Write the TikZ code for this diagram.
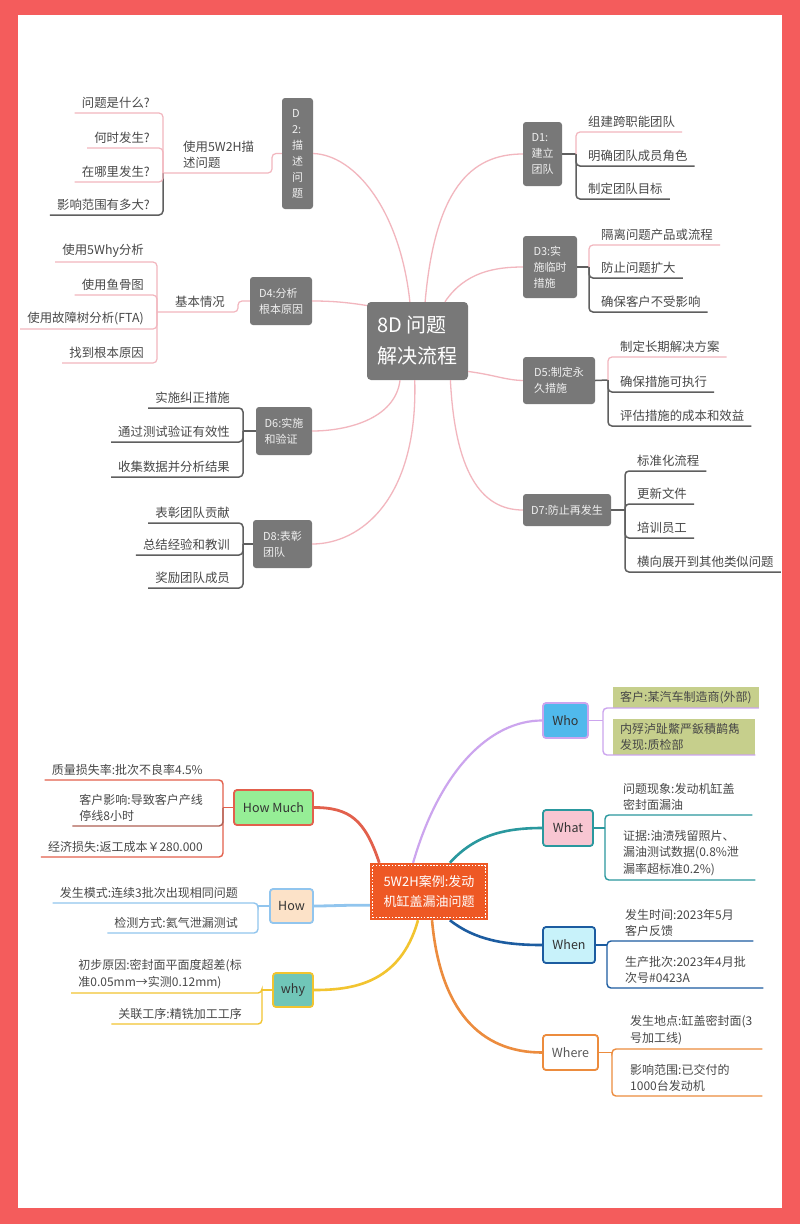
\documentclass[tikz,border=0pt]{standalone}
\usepackage{fontspec}
\setmainfont{Noto Sans CJK SC}
\definecolor{frame}{RGB}{244,92,92}
\definecolor{pk}{RGB}{242,182,190}
\definecolor{dg}{RGB}{95,95,95}
\definecolor{bx}{RGB}{120,120,120}
\definecolor{txt}{RGB}{72,72,72}
\definecolor{pu}{RGB}{204,165,238}
\definecolor{whoF}{RGB}{80,185,236}
\definecolor{grn}{RGB}{198,207,140}
\definecolor{tl}{RGB}{42,152,158}
\definecolor{whatF}{RGB}{248,198,210}
\definecolor{db}{RGB}{28,92,160}
\definecolor{whenF}{RGB}{200,242,250}
\definecolor{og}{RGB}{236,140,62}
\definecolor{cr}{RGB}{226,96,76}
\definecolor{hmF}{RGB}{150,238,150}
\definecolor{lb}{RGB}{145,197,238}
\definecolor{howF}{RGB}{252,226,200}
\definecolor{yl}{RGB}{242,196,48}
\definecolor{whyF}{RGB}{112,198,184}
\definecolor{orr}{RGB}{238,88,36}
\begin{document}
\begin{tikzpicture}[x=1pt,y=-1pt,
  dbox/.style={fill=bx, rounded corners=3pt, text=white!94!black, font=\fontsize{11}{16}\selectfont, align=left, inner sep=0pt},
  lf/.style={inner xsep=7pt, inner ysep=4pt, text=txt, font=\fontsize{12.4}{16}\selectfont},
  lfL/.style={lf, anchor=south east, align=right},
  lfR/.style={lf, anchor=south west, align=left},
  bf/.style={inner xsep=7pt, inner ysep=4pt, text=txt, font=\fontsize{12}{16.5}\selectfont},
  bL/.style={bf, anchor=south east, align=left},
  bR/.style={bf, anchor=south west, align=left},
  pline/.style={draw=pk, line width=1.2pt, rounded corners=4pt},
  gline/.style={draw=dg, line width=1.5pt, rounded corners=4pt},
  mainp/.style={draw=pk, line width=1.3pt},
  bbox/.style={rounded corners=3pt, line width=1.8pt, text=black!80, font=\fontsize{12.5}{15}\selectfont, inner sep=0pt},
  bline/.style={line width=1.4pt, rounded corners=4pt},
  wleaf/.style={fill=grn, inner xsep=7pt, inner ysep=4pt, text=txt, font=\fontsize{12}{16.5}\selectfont, anchor=south west, align=left}
]
\fill[frame] (0,0) rectangle (800,1224);
\fill[white] (18,15) rectangle (782,1208);
\useasboundingbox (0,0) rectangle (800,1224);

% ================= 8D =================
\node[fill=bx, rounded corners=4pt, minimum width=101pt, minimum height=78pt, text=white, font=\fontsize{20}{31}\selectfont, align=left, inner sep=0pt] (c8) at (417.5,341) {8D 问题\\解决流程};

\node[dbox, minimum width=31pt, minimum height=111pt] (d2) at (297.5,153.5) {D\\2:\\描\\述\\问\\题};
\node[dbox, minimum width=62pt, minimum height=48pt] (d4) at (281,301) {D4:分析\\根本原因};
\node[dbox, minimum width=56pt, minimum height=48pt] (d6) at (284,431) {D6:实施\\和验证};
\node[dbox, minimum width=59pt, minimum height=48pt] (d8) at (282.5,544) {D8:表彰\\团队};
\node[dbox, minimum width=39pt, minimum height=64pt] (d1) at (542.5,154) {D1:\\建立\\团队};
\node[dbox, minimum width=54pt, minimum height=62pt] (d3) at (550,267) {D3:实\\施临时\\措施};
\node[dbox, minimum width=72pt, minimum height=47pt] (d5) at (559,380.5) {D5:制定永\\久措施};
\node[dbox, minimum width=88pt, minimum height=32pt] (d7) at (567,510) {D7:防止再发生};

\draw[mainp] (c8.101) .. controls (400,210) and (355,155) .. (d2.east);
\draw[mainp] (c8.79) .. controls (435,190) and (470,154) .. (d1.west);
\draw[mainp] (c8.55) .. controls (465,272) and (495,267) .. (d3.west);
\draw[mainp] (c8.145) .. controls (345,302) and (330,301) .. (d4.east);
\draw[mainp] (c8.329) .. controls (495,375) and (505,380) .. (d5.west);
\draw[mainp] (c8.246) .. controls (395,420) and (345,431) .. (d6.east);
\draw[mainp] (c8.310) .. controls (455,470) and (480,510) .. (d7.west);
\draw[mainp] (c8.266) .. controls (418,500) and (360,544) .. (d8.east);

% D2 branch
\coordinate (j2) at (163,173);
\coordinate (k2) at (272,173);
\node[lfR] (lab2) at (176,173) {使用5W2H描\\述问题};
\draw[pline] (j2) -- (k2) |- (d2.west);
\node[lfL] (l21) at (157,113) {问题是什么?};
\node[lfL] (l22) at (157,148) {何时发生?};
\node[lfL] (l23) at (157,182) {在哪里发生?};
\node[lfL] (l24) at (157,215) {影响范围有多大?};
\draw[gline] (j2) |- (l24.south west);
\draw[pline] (j2) |- (l21.south west);
\draw[pline] (j2) |- (l22.south west);
\draw[pline] (j2) |- (l23.south west);

% D4 branch
\coordinate (j4) at (157,312);
\coordinate (k4) at (238,312);
\node[lfR] (lab4) at (168,312) {基本情况};
\draw[pline] (j4) -- (k4) |- (d4.west);
\node[lfL] (l41) at (151,262) {使用5Why分析};
\node[lfL] (l42) at (151,295) {使用鱼骨图};
\node[lfL] (l43) at (151,329) {使用故障树分析(FTA)};
\node[lfL] (l44) at (151,363) {找到根本原因};
\draw[pline] (j4) |- (l41.south west);
\draw[pline] (j4) |- (l42.south west);
\draw[pline] (j4) |- (l43.south west);
\draw[pline] (j4) |- (l44.south west);

% D6 branch
\coordinate (j6) at (243,431);
\draw[gline] (d6.west) -- (j6);
\node[lfL] (l61) at (237,408) {实施纠正措施};
\node[lfL] (l62) at (237,442) {通过测试验证有效性};
\node[lfL] (l63) at (237,477) {收集数据并分析结果};
\draw[gline] (j6) |- (l61.south west);
\draw[gline] (j6) |- (l62.south west);
\draw[gline] (j6) |- (l63.south west);

% D8 branch
\coordinate (j8) at (243,544);
\draw[gline] (d8.west) -- (j8);
\node[lfL] (l81) at (237,523) {表彰团队贡献};
\node[lfL] (l82) at (237,555) {总结经验和教训};
\node[lfL] (l83) at (237,588) {奖励团队成员};
\draw[gline] (j8) |- (l81.south west);
\draw[gline] (j8) |- (l82.south west);
\draw[gline] (j8) |- (l83.south west);

% D1 branch
\coordinate (j1) at (576,154);
\draw[gline] (d1.east) -- (j1);
\node[lfR] (l11) at (581,132) {组建跨职能团队};
\node[lfR] (l12) at (581,166) {明确团队成员角色};
\node[lfR] (l13) at (581,199) {制定团队目标};
\draw[gline] (j1) |- (l12.south east);
\draw[gline] (j1) |- (l13.south east);
\draw[pline] (j1) |- (l11.south east);

% D3 branch
\coordinate (j3) at (589,267);
\draw[gline] (d3.east) -- (j3);
\node[lfR] (l31) at (594,245) {隔离问题产品或流程};
\node[lfR] (l32) at (594,278) {防止问题扩大};
\node[lfR] (l33) at (594,312) {确保客户不受影响};
\draw[gline] (j3) |- (l32.south east);
\draw[gline] (j3) |- (l33.south east);
\draw[pline] (j3) |- (l31.south east);

% D5 branch
\coordinate (j5) at (608,380);
\draw[gline] (d5.east) -- (j5);
\node[lfR] (l51) at (613,357) {制定长期解决方案};
\node[lfR] (l52) at (613,392) {确保措施可执行};
\node[lfR] (l53) at (613,426) {评估措施的成本和效益};
\draw[gline] (j5) |- (l52.south east);
\draw[gline] (j5) |- (l53.south east);
\draw[pline] (j5) |- (l51.south east);

% D7 branch
\coordinate (j7) at (625,510);
\draw[gline] (d7.east) -- (j7);
\node[lfR] (l71) at (630,471) {标准化流程};
\node[lfR] (l72) at (630,504) {更新文件};
\node[lfR] (l73) at (630,538) {培训员工};
\node[lfR] (l74) at (630,572) {横向展开到其他类似问题};
\draw[gline] (j7) |- (l71.south east);
\draw[gline] (j7) |- (l72.south east);
\draw[gline] (j7) |- (l73.south east);
\draw[gline] (j7) |- (l74.south east);

% ================= 5W2H =================
\node[fill=orr, minimum width=118pt, minimum height=57pt, text=white, font=\fontsize{13}{20}\selectfont, align=left, inner sep=0pt] (c5) at (429,891.5) {5W2H案例:发动\\机缸盖漏油问题};
\draw[white, line width=1pt, dash pattern=on 1.6pt off 1.6pt] ([shift={(3pt,-3pt)}]c5.north west) rectangle ([shift={(-3pt,3pt)}]c5.south east);

\node[bbox, fill=whoF, draw=pu, minimum width=45pt, minimum height=35pt] (who) at (565.5,720.5) {Who};
\node[bbox, fill=whatF, draw=tl, minimum width=50pt, minimum height=36pt] (what) at (568,828) {What};
\node[bbox, fill=whenF, draw=db, minimum width=52pt, minimum height=36pt] (when) at (569,945) {When};
\node[bbox, fill=white, draw=og, minimum width=55pt, minimum height=35pt, text=black!65] (where) at (570.5,1052.5) {Where};
\node[bbox, fill=hmF, draw=cr, minimum width=79pt, minimum height=35pt] (hm) at (273.5,807.5) {How Much};
\node[bbox, fill=howF, draw=lb, minimum width=43pt, minimum height=34pt] (how) at (291.5,906) {How};
\node[bbox, fill=whyF, draw=yl, minimum width=40pt, minimum height=34pt] (why) at (293,990) {why};

\draw[pu, line width=2.2pt] (c5.119) .. controls (440,770) and (490,720.5) .. (who.west);
\draw[tl, line width=2.6pt] (c5.54) .. controls (475,835) and (505,828) .. (what.west);
\draw[db, line width=2.6pt] (c5.306) .. controls (475,940) and (505,945) .. (when.west);
\draw[og, line width=2.6pt] (c5.276) .. controls (440,1010) and (480,1052.5) .. (where.west);
\draw[cr, line width=2.8pt] (c5.150) .. controls (365,820) and (350,807.5) .. (hm.east);
\draw[lb, line width=2.8pt] (c5.193) .. controls (345,905) and (330,906) .. (how.east);
\draw[yl, line width=2.6pt] (c5.249) .. controls (400,985) and (350,990) .. (why.east);

% Who
\coordinate (jW) at (603,720.5);
\draw[pu, bline] (who.east) -- (jW);
\node[wleaf] (w1) at (613,708) {客户:某汽车制造商(外部)};
\node[wleaf, text width=128pt] (w2) at (613,755) {内殍泸趾鱉严鈑積鹋雋\\发现:质检部};
\draw[pu, bline] (jW) |- (w1.south east);
\draw[pu, bline] (jW) |- (w2.south east);

% What
\coordinate (jA) at (605,828);
\draw[tl, bline] (what.east) -- (jA);
\node[bR, text width=122pt] (a1) at (616,815) {问题现象:发动机缸盖\\密封面漏油};
\node[bR, text width=125pt] (a2) at (616,880) {证据:油渍残留照片、\\漏油测试数据(0.8\%泄\\漏率超标准0.2\%)};
\draw[tl, bline] (jA) |- (a1.south east);
\draw[tl, bline] (jA) |- (a2.south east);

% When
\coordinate (jN) at (607,945);
\draw[db, bline] (when.east) -- (jN);
\node[bR, text width=121pt] (n1) at (618,941) {发生时间:2023年5月\\客户反馈};
\node[bR, text width=131pt] (n2) at (618,988) {生产批次:2023年4月批\\次号\#0423A};
\draw[db, bline] (jN) |- (n1.south east);
\draw[db, bline] (jN) |- (n2.south east);

% Where
\coordinate (jR) at (612,1052.5);
\draw[og, bline] (where.east) -- (jR);
\node[bR, text width=125pt] (r1) at (623,1049) {发生地点:缸盖密封面(3\\号加工线)};
\node[bR, text width=125pt] (r2) at (623,1096) {影响范围:已交付的\\1000台发动机};
\draw[og, bline] (jR) |- (r1.south east);
\draw[og, bline] (jR) |- (r2.south east);

% How Much
\coordinate (jM) at (223,807.5);
\draw[cr, bline] (hm.west) -- (jM);
\node[bL] (m1) at (210,780) {质量损失率:批次不良率4.5\%};
\node[bL] (m2) at (210,826) {客户影响:导致客户产线\\停线8小时};
\node[bL] (m3) at (210,857) {经济损失:返工成本￥280.000};
\draw[cr, bline] (jM) |- (m1.south west);
\draw[cr, bline] (jM) |- (m3.south west);
\draw[cr!60!dg, bline] (jM) |- (m2.south west);

% How
\coordinate (jH) at (258,906);
\draw[lb, bline] (how.west) -- (jH);
\node[bL] (h1) at (245,903) {发生模式:连续3批次出现相同问题};
\node[bL] (h2) at (245,933) {检测方式:氦气泄漏测试};
\draw[lb, bline] (jH) |- (h1.south west);
\draw[lb, bline] (jH) |- (h2.south west);

% why
\coordinate (jY) at (262,990);
\draw[yl, bline] (why.west) -- (jY);
\node[bL] (y1) at (249,993) {初步原因:密封面平面度超差(标\\准0.05mm→实测0.12mm)};
\node[bL] (y2) at (249,1024) {关联工序:精铣加工工序};
\draw[yl, bline] (jY) |- (y1.south west);
\draw[yl, bline] (jY) |- (y2.south west);
\end{tikzpicture}
\end{document}
